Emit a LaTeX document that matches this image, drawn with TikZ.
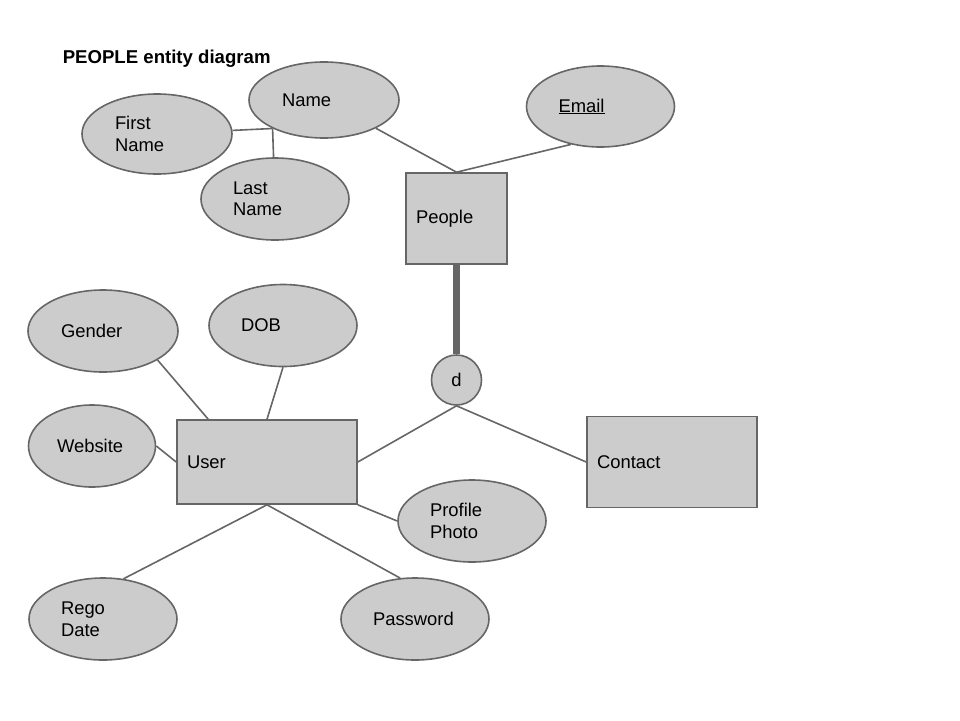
\documentclass[tikz,border=0pt]{standalone}
\usepackage{fontspec}
\setmainfont{Liberation Sans}
\usetikzlibrary{shapes.geometric}
\definecolor{boxgrey}{HTML}{CCCCCC}
\definecolor{linegrey}{HTML}{666666}

\begin{document}
\begin{tikzpicture}[x=1pt, y=-1pt, line width=1.6pt,
    every node/.style = {font=\fontsize{18.4}{21.5}\selectfont},
    main/.style = {draw=linegrey, fill=boxgrey, rectangle, inner xsep=10pt, inner ysep=0pt, align=left},
    attr/.style = {draw=linegrey, fill=boxgrey, ellipse, inner sep=0pt, minimum width=148pt, minimum height=82pt, text width=84pt, align=left}]
    \useasboundingbox (0,0) rectangle (960,720);
    \node (0) [anchor=base west, inner sep=0pt, font=\bfseries\fontsize{18.6}{21}\selectfont] at (62,63) {PEOPLE entity diagram};
    \node[main, text width=81pt, minimum height=91pt] (1) at (456.5,218.5) {People};
    \node[circle, draw=linegrey, fill=boxgrey, minimum size=50pt, inner sep=0pt] (2) [below of=1, node distance={161.5pt}] {d};
    \node[main, text width=160pt, minimum height=84pt] (3) at (267,462) {User};
    \node[main, text width=150pt, minimum height=91pt] (4) [right of=3, node distance={405pt}] {Contact};
    \node[attr, minimum width=150pt, minimum height=76pt] (5) at (324,100) {Name};
    \node[attr, minimum width=150pt, minimum height=80pt] (6) at (157,134) {First\\Name};
    \node[attr] (7) at (275,199) {Last\\Name};
    \node[attr, minimum height=81pt] (8) at (600.5,106.5) {\underline{Email}};
    \node[attr, minimum width=150pt] (9) at (103,331) {Gender};
    \node[attr] (10) at (283,325.5) {DOB};
    \node[attr, minimum width=127pt, text width=70pt] (11) at (92,446) {Website};
    \node[attr] (12) at (472,521) {Profile\\Photo};
    \node[attr] (13) [below of=9, node distance={288pt}] {Rego\\Date};
    \node[attr] (14) [right of=13, node distance={312pt}] {Password};
    \coordinate (15) at (5.209);
    \draw[linegrey] (6) -- (15);
    \draw[linegrey] (15) -- (7);
    \draw[linegrey] (5) -- (1.north);
    \draw[linegrey] (8.232) -- (1.north);
    \draw[linegrey, line width=7pt] (1) -- (2);
    \draw[linegrey] (2.south) -- (3.east);
    \draw[linegrey] (2.south) -- (4.west);
    \draw[linegrey] (9.-28) -- ([xshift=32pt]3.north west);
    \draw[linegrey] (10.south) -- (3.north);
    \draw[linegrey] (11.east) -- (3.west);
    \draw[linegrey] (3.south east) -- (12.west);
    \draw[linegrey] (13.63) -- (3.south);
    \draw[linegrey] (14.110) -- (3.south);
\end{tikzpicture}
\end{document}
